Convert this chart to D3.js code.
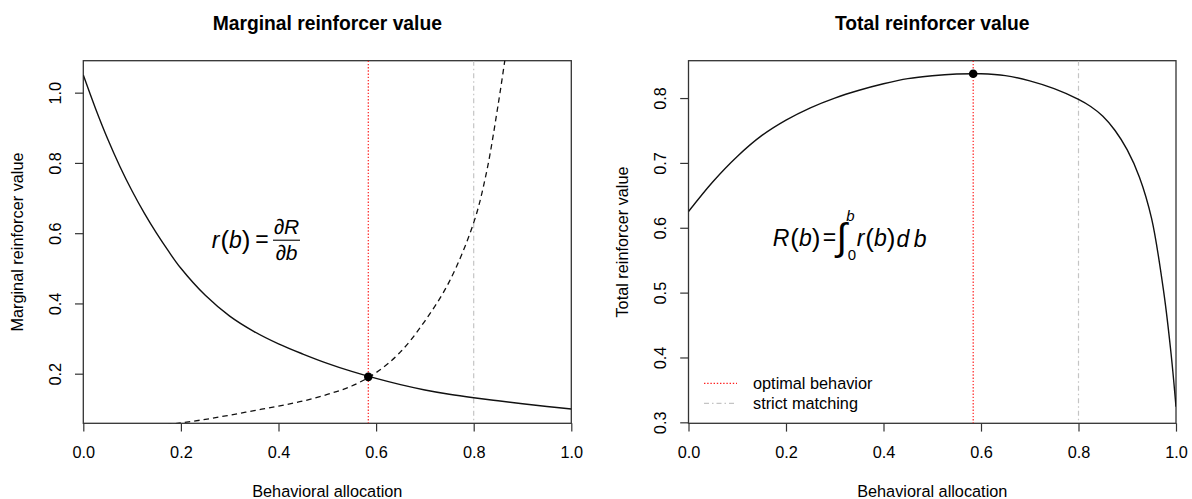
<!DOCTYPE html>
<html>
<head>
<meta charset="utf-8">
<script src="https://cdn.jsdelivr.net/npm/d3@7"></script>
<style>
  body { margin: 0; background: #fff; }
  text { font-family: "Liberation Sans", Arial, sans-serif; fill: #000; }
</style>
</head>
<body>
<script>
// values
const bMarginal = [0, 0.025, 0.05, 0.075, 0.1, 0.125, 0.15, 0.175, 0.2, 0.25, 0.3, 0.35, 0.4, 0.45,
                   0.5, 0.55, 0.6, 0.65, 0.7, 0.75, 0.8, 0.85, 0.9, 0.95, 1.0];
const marginalValue = [1.05, 0.955, 0.868, 0.79, 0.72, 0.657, 0.60, 0.548, 0.50, 0.423, 0.364, 0.32, 0.285, 0.256,
                       0.2295, 0.2065, 0.1865, 0.1688, 0.1537, 0.1415, 0.1315, 0.1228, 0.1145, 0.1068, 0.0995];

const bCost = [0.15, 0.2, 0.25, 0.3, 0.35, 0.4, 0.45, 0.5, 0.55, 0.6, 0.65, 0.7, 0.75, 0.8, 0.825, 0.85, 0.875];
const costValue = [0.051, 0.060, 0.070, 0.082, 0.095, 0.108, 0.122, 0.141, 0.165, 0.203, 0.262, 0.350, 0.462, 0.63, 0.765, 0.965, 1.2];

const bTotal = [0, 0.05, 0.1, 0.15, 0.2, 0.25, 0.3, 0.35, 0.4, 0.45, 0.5, 0.55, 0.6, 0.65, 0.7, 0.75,
                0.8, 0.825, 0.85, 0.875, 0.9, 0.925, 0.95, 0.975, 0.99, 1.0];
const totalValue = [0.625, 0.671, 0.71, 0.742, 0.766, 0.785, 0.80, 0.812, 0.822, 0.83, 0.8345, 0.837, 0.8374, 0.8345, 0.8265, 0.8145,
                    0.798, 0.787, 0.772, 0.750, 0.720, 0.678, 0.614, 0.50, 0.405, 0.324];

const optimalB = 0.584;
const matchingB = 0.8;
const optimalMarginal = 0.191;
const optimalTotal = 0.8375;

const xTicks = [0, 0.2, 0.4, 0.6, 0.8, 1.0];
const leftYTicks = [0.2, 0.4, 0.6, 0.8, 1.0];
const rightYTicks = [0.3, 0.4, 0.5, 0.6, 0.7, 0.8];
const legendLabels = ["optimal behavior", "strict matching"];

const width = 1192, height = 499;
const plotTop = 60.7, plotBottom = 423.3;
const fontSize = 16.3;

const svg = d3.select("body").append("svg")
    .attr("width", width)
    .attr("height", height);

function panel(id, left, right, yDomain, yTicks, title, yLabel) {
    const x = d3.scaleLinear().domain([0, 1]).range([left, right]);
    const y = d3.scaleLinear().domain(yDomain).range([plotBottom, plotTop]);
    const g = svg.append("g");

    g.append("clipPath").attr("id", id)
        .append("rect")
        .attr("x", left).attr("y", plotTop)
        .attr("width", right - left).attr("height", plotBottom - plotTop);

    // x axis
    const xa = g.append("g")
        .attr("transform", `translate(0,${plotBottom})`)
        .call(d3.axisBottom(x).tickValues(xTicks).tickFormat(d3.format(".1f"))
            .tickSizeOuter(0).tickSize(8.3).tickPadding(15));
    xa.select(".domain").remove();
    xa.selectAll("line").attr("stroke", "#333").attr("stroke-width", 1.2);
    xa.selectAll("text").attr("font-size", fontSize).attr("font-family", null);

    // y axis, labels turned like R does
    const ya = g.append("g")
        .attr("transform", `translate(${left},0)`)
        .call(d3.axisLeft(y).tickValues(yTicks).tickFormat(d3.format(".1f"))
            .tickSizeOuter(0).tickSize(8.3));
    ya.select(".domain").remove();
    ya.selectAll("line").attr("stroke", "#333").attr("stroke-width", 1.2);
    ya.selectAll("text")
        .attr("font-size", fontSize).attr("font-family", null)
        .attr("transform", "rotate(-90)")
        .attr("x", 0).attr("y", -22.3).attr("dy", null)
        .attr("text-anchor", "middle");

    // box
    g.append("rect")
        .attr("x", left).attr("y", plotTop)
        .attr("width", right - left).attr("height", plotBottom - plotTop)
        .attr("fill", "none").attr("stroke", "#333").attr("stroke-width", 1.3);

    // titles
    g.append("text")
        .attr("x", (left + right) / 2).attr("y", 30)
        .attr("text-anchor", "middle")
        .attr("font-size", 19.3).attr("font-weight", "bold")
        .text(title);
    g.append("text")
        .attr("x", (left + right) / 2).attr("y", 496.5)
        .attr("text-anchor", "middle")
        .attr("font-size", fontSize)
        .text("Behavioral allocation");
    g.append("text")
        .attr("transform", `translate(${left - 60.5},${(plotTop + plotBottom) / 2}) rotate(-90)`)
        .attr("text-anchor", "middle")
        .attr("font-size", fontSize)
        .text(yLabel);

    const plot = g.append("g").attr("clip-path", `url(#${id})`);
    return { x, y, g, plot };
}

function vlines(p) {
    p.plot.append("line")
        .attr("x1", p.x(optimalB)).attr("x2", p.x(optimalB))
        .attr("y1", plotTop).attr("y2", plotBottom)
        .attr("stroke", "#ff2020").attr("stroke-width", 1.2)
        .attr("stroke-dasharray", "1.4,1.8");
    p.plot.append("line")
        .attr("x1", p.x(matchingB)).attr("x2", p.x(matchingB))
        .attr("y1", plotTop).attr("y2", plotBottom)
        .attr("stroke", "#c4c4c4").attr("stroke-width", 1.2)
        .attr("stroke-dasharray", "5,3,1.5,3");
}

// italic letter + upright, slightly larger brackets, as plotmath draws f(b)
function fn(text, name, size) {
    text.append("tspan").attr("font-style", "italic").text(name);
    text.append("tspan").attr("font-size", size + 3).attr("dx", 1).attr("dy", 1).text("(");
    text.append("tspan").attr("font-style", "italic").attr("dy", -1).text("b");
    text.append("tspan").attr("font-size", size + 3).attr("dy", 1).text(")");
    text.append("tspan").attr("dy", -1).text("");
}

const smooth = d3.curveCatmullRom.alpha(0.5);

// ---- left: marginal value ----
const L = panel("clipL", 83.3, 571.3, [0.0588, 1.091], leftYTicks,
    "Marginal reinforcer value", "Marginal reinforcer value");
vlines(L);

const lineL = d3.line().x(d => L.x(d[0])).y(d => L.y(d[1])).curve(smooth);
L.plot.append("path")
    .attr("d", lineL(d3.zip(bMarginal, marginalValue)))
    .attr("fill", "none").attr("stroke", "#111").attr("stroke-width", 1.4);
L.plot.append("path")
    .attr("d", lineL(d3.zip(bCost, costValue)))
    .attr("fill", "none").attr("stroke", "#111").attr("stroke-width", 1.3)
    .attr("stroke-dasharray", "5.5,4");
L.g.append("circle")
    .attr("cx", L.x(optimalB)).attr("cy", L.y(optimalMarginal))
    .attr("r", 4.3).attr("fill", "#000");

// formula r(b) = dR/db
{
    const cx = L.x(0.357), cy = L.y(0.58);
    const f = L.g.append("g").attr("font-size", 23);
    const t = f.append("text").attr("x", cx - 7).attr("y", cy + 8).attr("text-anchor", "end");
    fn(t, "r", 23);
    f.append("text").attr("x", cx + 4.5).attr("y", cy + 7).attr("text-anchor", "middle").text("=");
    f.append("line")
        .attr("x1", cx + 15.5).attr("x2", cx + 42.5)
        .attr("y1", cy).attr("y2", cy)
        .attr("stroke", "#000").attr("stroke-width", 1.1);
    f.append("text").attr("x", cx + 29).attr("y", cy - 6.5).attr("text-anchor", "middle")
        .attr("font-size", 21).attr("font-style", "italic").text("\u2202R");
    f.append("text").attr("x", cx + 29).attr("y", cy + 20).attr("text-anchor", "middle")
        .attr("font-size", 21).attr("font-style", "italic").text("\u2202b");
}

// ---- right: total value ----
const R = panel("clipR", 688.5, 1176, [0.2985, 0.8576], rightYTicks,
    "Total reinforcer value", "Total reinforcer value");
vlines(R);

const lineR = d3.line().x(d => R.x(d[0])).y(d => R.y(d[1])).curve(smooth);
R.plot.append("path")
    .attr("d", lineR(d3.zip(bTotal, totalValue)))
    .attr("fill", "none").attr("stroke", "#111").attr("stroke-width", 1.4);
R.g.append("circle")
    .attr("cx", R.x(optimalB)).attr("cy", R.y(optimalTotal))
    .attr("r", 4.3).attr("fill", "#000");

// formula R(b) = integral_0^b r(b) db
{
    const cx = R.x(0.328), cy = R.y(0.5844);
    const f = R.g.append("g").attr("font-size", 23);
    const t = f.append("text").attr("x", cx - 28).attr("y", cy + 8).attr("text-anchor", "end");
    fn(t, "R", 23);
    f.append("text").attr("x", cx - 19).attr("y", cy + 7).attr("text-anchor", "middle").text("=");
    const integ = f.append("text").attr("x", cx - 12).attr("y", cy + 12).attr("font-size", 38).text("\u222B");
    const iw = integ.node().getComputedTextLength();
    const limX = cx - 12 + iw - 0.5;
    const sup = f.append("text").attr("x", limX).attr("y", cy - 16.5).attr("font-size", 15)
        .attr("font-style", "italic").text("b");
    const sub = f.append("text").attr("x", limX + 1.5).attr("y", cy + 22).attr("font-size", 15).text("0");
    const after = Math.max(limX + sup.node().getComputedTextLength(),
                           limX + 1.5 + sub.node().getComputedTextLength());
    const u = f.append("text").attr("x", after + 0.5).attr("y", cy + 8);
    fn(u, "r", 23);
    u.append("tspan").attr("font-style", "italic").attr("dx", 1).text("d\u2009b");
}

// legend
const legend = R.g.append("g");
const styles = [
    { stroke: "#ff2020", dash: "1.4,1.8" },
    { stroke: "#c4c4c4", dash: "5,3,1.5,3" }
];
legendLabels.forEach((lab, i) => {
    const yy = 383.3 + i * 20;
    legend.append("line")
        .attr("x1", 704).attr("x2", 737)
        .attr("y1", yy).attr("y2", yy)
        .attr("stroke", styles[i].stroke).attr("stroke-width", 1.2)
        .attr("stroke-dasharray", styles[i].dash);
    legend.append("text")
        .attr("x", 753).attr("y", yy + 5.8)
        .attr("font-size", fontSize)
        .text(lab);
});
</script>
</body>
</html>
